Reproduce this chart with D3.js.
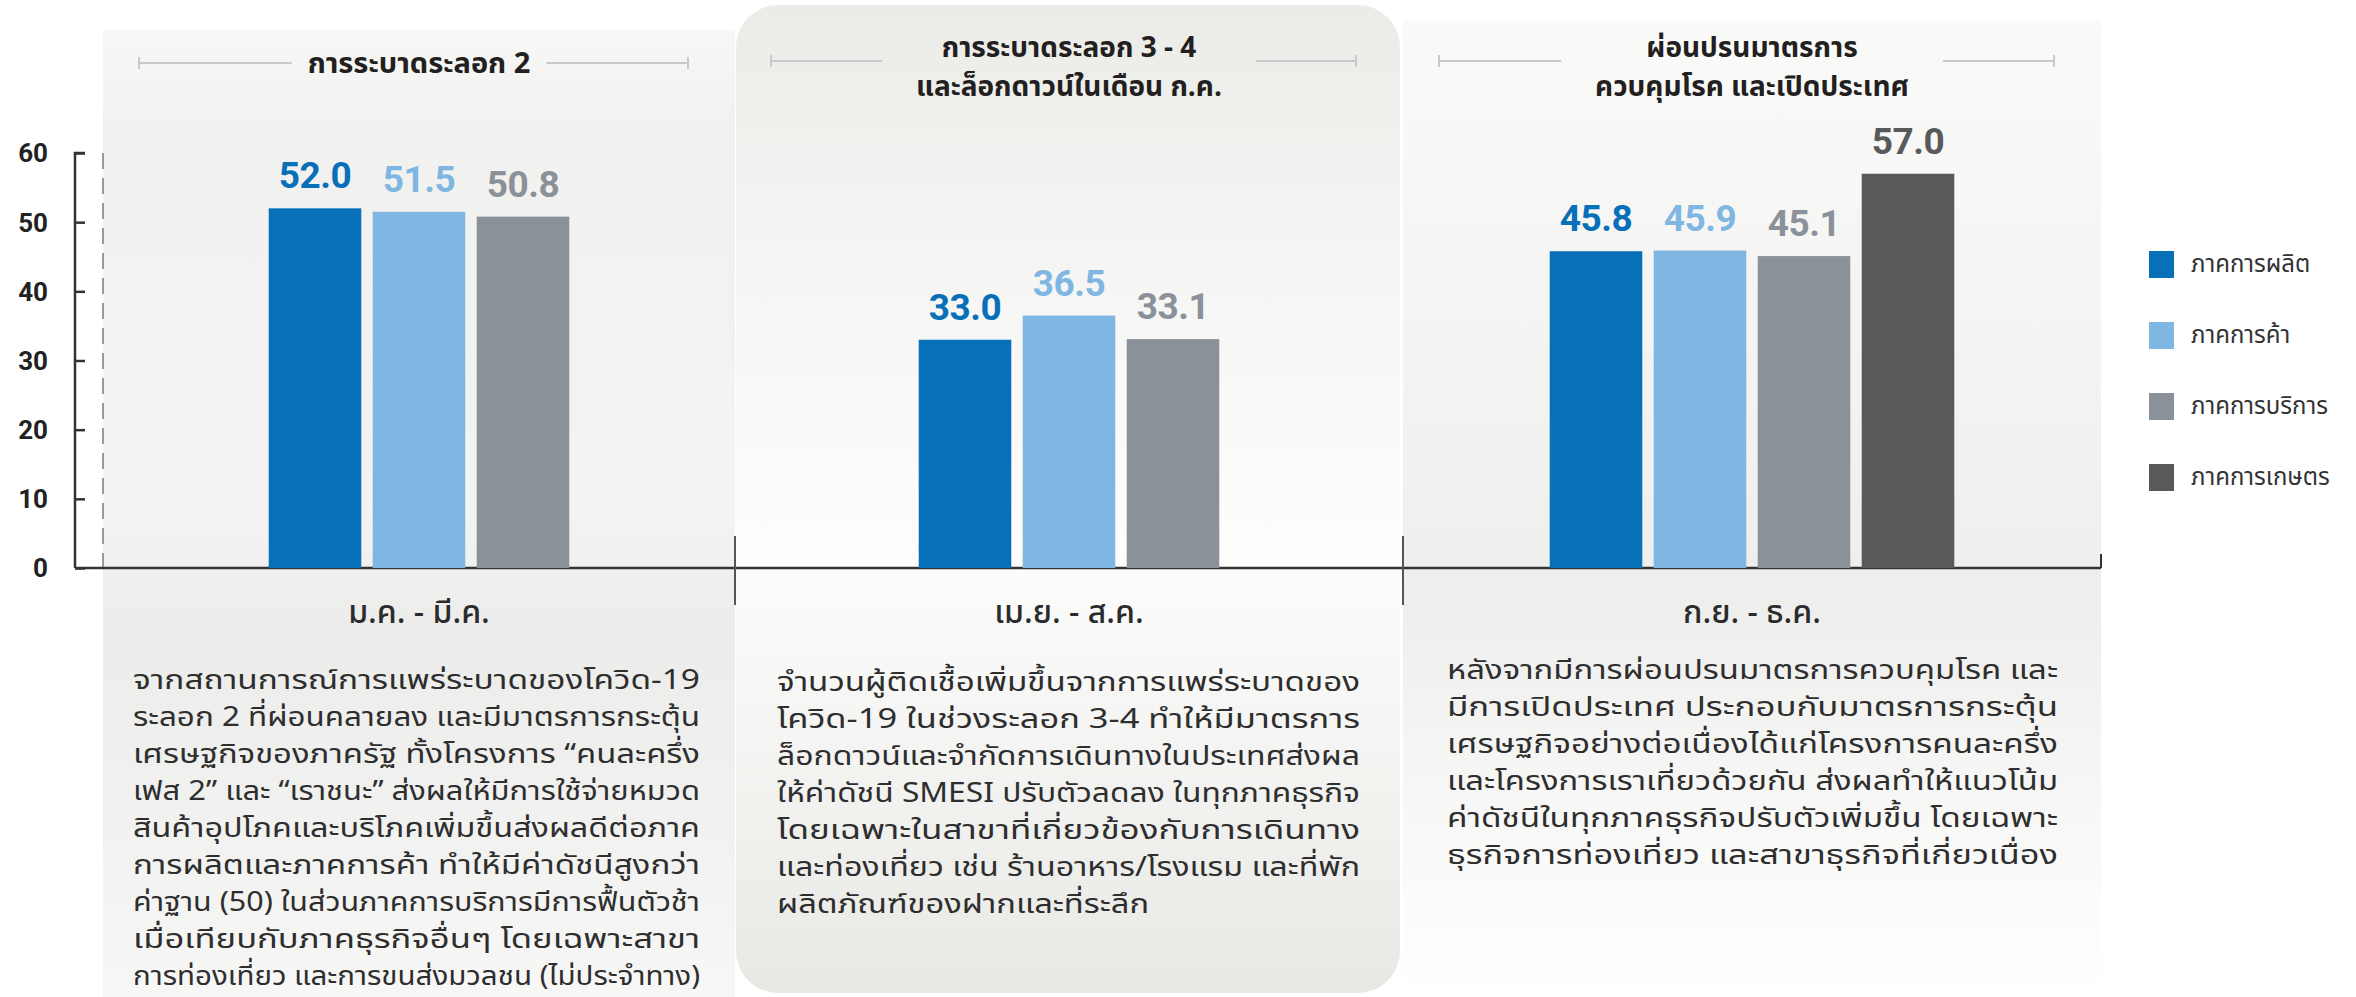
<!DOCTYPE html>
<html>
<head>
<meta charset="utf-8">
<script src="https://cdn.jsdelivr.net/npm/d3@7"></script>
<style>
  body { margin: 0; background: #fff; }
  svg { display: block; }
  .thai { font-family: "Noto Sans Thai", "Noto Sans Thai UI", "Noto Sans", sans-serif; }
  .num { font-family: Roboto, "Noto Sans", sans-serif; }
</style>
</head>
<body>
<div id="chart"></div>
<script>
// periods (x groups)
const periods = ["ม.ค. - มี.ค.", "เม.ย. - ส.ค.", "ก.ย. - ธ.ค."];
const titles = [
  ["การระบาดระลอก 2"],
  ["การระบาดระลอก 3 - 4", "และล็อกดาวน์ในเดือน ก.ค."],
  ["ผ่อนปรนมาตรการ", "ควบคุมโรค และเปิดประเทศ"]
];
const sectors = ["ภาคการผลิต", "ภาคการค้า", "ภาคการบริการ", "ภาคการเกษตร"];
// values per sector for each period (null = no bar)
const production = [52.0, 33.0, 45.8];
const trade = [51.5, 36.5, 45.9];
const services = [50.8, 33.1, 45.1];
const agriculture = [null, null, 57.0];
const yTicks = [0, 10, 20, 30, 40, 50, 60];

const notes = [
  ["จากสถานการณ์การแพร่ระบาดของโควิด-19",
   "ระลอก 2 ที่ผ่อนคลายลง และมีมาตรการกระตุ้น",
   "เศรษฐกิจของภาครัฐ ทั้งโครงการ “คนละครึ่ง",
   "เฟส 2” และ “เราชนะ” ส่งผลให้มีการใช้จ่ายหมวด",
   "สินค้าอุปโภคและบริโภคเพิ่มขึ้นส่งผลดีต่อภาค",
   "การผลิตและภาคการค้า ทำให้มีค่าดัชนีสูงกว่า",
   "ค่าฐาน (50) ในส่วนภาคการบริการมีการฟื้นตัวช้า",
   "เมื่อเทียบกับภาคธุรกิจอื่นๆ โดยเฉพาะสาขา",
   "การท่องเที่ยว และการขนส่งมวลชน (ไม่ประจำทาง)"],
  ["จำนวนผู้ติดเชื้อเพิ่มขึ้นจากการแพร่ระบาดของ",
   "โควิด-19 ในช่วงระลอก 3-4 ทำให้มีมาตรการ",
   "ล็อกดาวน์และจำกัดการเดินทางในประเทศส่งผล",
   "ให้ค่าดัชนี SMESI ปรับตัวลดลง ในทุกภาคธุรกิจ",
   "โดยเฉพาะในสาขาที่เกี่ยวข้องกับการเดินทาง",
   "และท่องเที่ยว เช่น ร้านอาหาร/โรงแรม และที่พัก",
   "ผลิตภัณฑ์ของฝากและที่ระลึก"],
  ["หลังจากมีการผ่อนปรนมาตรการควบคุมโรค และ",
   "มีการเปิดประเทศ ประกอบกับมาตรการกระตุ้น",
   "เศรษฐกิจอย่างต่อเนื่องได้แก่โครงการคนละครึ่ง",
   "และโครงการเราเที่ยวด้วยกัน ส่งผลทำให้แนวโน้ม",
   "ค่าดัชนีในทุกภาคธุรกิจปรับตัวเพิ่มขึ้น โดยเฉพาะ",
   "ธุรกิจการท่องเที่ยว และสาขาธุรกิจที่เกี่ยวเนื่อง"]
];

const colors = ["#0870b8", "#7fb6e2", "#8b9198", "#58595b"];
const seriesValues = [production, trade, services, agriculture];

const width = 2356, height = 997;
const axisX = 75, baseY = 568, topY = 153;
const panelEdges = [103, 735, 1403, 2101];
const step = 104;

const svg = d3.select("#chart").append("svg")
  .attr("width", width)
  .attr("height", height);

const defs = svg.append("defs");
function vgrad(id, stops) {
  let g = defs.append("linearGradient").attr("id", id)
    .attr("x1", 0).attr("y1", 0).attr("x2", 0).attr("y2", 1);
  stops.forEach(s => g.append("stop").attr("offset", s[0]).attr("stop-color", s[1]));
}
vgrad("gSide", [[0, "#f7f7f5"], [0.1, "#f1f1ef"], [0.5, "#f3f3f1"], [0.62, "#ececea"], [0.85, "#f2f2f0"], [1, "#f7f7f6"]]);
vgrad("gMid", [[0, "#ebebe8"], [0.3, "#f6f6f5"], [0.55, "#fdfdfd"], [0.75, "#f4f4f2"], [1, "#e8e8e5"]]);
vgrad("gRight", [[0, "#fafaf9"], [0.35, "#f3f3f1"], [0.6, "#eeeeec"], [0.8, "#f7f7f6"], [1, "#ffffff"]]);

// panel backgrounds
svg.append("rect").attr("x", panelEdges[0]).attr("y", 30)
  .attr("width", panelEdges[1] - panelEdges[0]).attr("height", height - 30)
  .attr("fill", "url(#gSide)");
svg.append("rect").attr("x", panelEdges[2]).attr("y", 20)
  .attr("width", panelEdges[3] - panelEdges[2]).attr("height", height - 20)
  .attr("fill", "url(#gRight)");
svg.append("rect").attr("x", panelEdges[1] + 1).attr("y", 5)
  .attr("width", panelEdges[2] - panelEdges[1] - 4).attr("height", 988)
  .attr("rx", 42)
  .attr("fill", "url(#gMid)");

const y = d3.scaleLinear().domain([0, 60]).range([baseY, topY]);

// dashed guide
svg.append("line")
  .attr("x1", panelEdges[0]).attr("x2", panelEdges[0])
  .attr("y1", y(60)).attr("y2", baseY)
  .attr("stroke", "#9a9a9a").attr("stroke-width", 2)
  .attr("stroke-dasharray", "16,9");

// y axis
const yAxis = svg.append("g")
  .attr("transform", "translate(" + axisX + ",0)")
  .call(d3.axisRight(y).tickValues(yTicks).tickSize(10).tickFormat(""));
yAxis.select(".domain").attr("stroke", "#333").attr("stroke-width", 2.5).attr("d", "M10," + y(60) + "H0V" + baseY);
yAxis.selectAll(".tick line").attr("stroke", "#333").attr("stroke-width", 2.5);
yAxis.selectAll(".tick text").remove();

svg.append("g").selectAll("text")
  .data(yTicks)
  .enter().append("text")
  .attr("class", "num")
  .attr("x", 48)
  .attr("y", d => y(d))
  .attr("dy", "0.36em")
  .attr("text-anchor", "end")
  .attr("font-size", 26)
  .attr("font-weight", 700)
  .attr("fill", "#222")
  .text(d => d);

// baseline and separators
svg.append("line").attr("x1", axisX).attr("x2", panelEdges[3])
  .attr("y1", baseY).attr("y2", baseY)
  .attr("stroke", "#333").attr("stroke-width", 2.5);
[panelEdges[1], panelEdges[2]].forEach(px => {
  svg.append("line").attr("x1", px).attr("x2", px)
    .attr("y1", 536).attr("y2", 605)
    .attr("stroke", "#555").attr("stroke-width", 2);
});
svg.append("line").attr("x1", panelEdges[3]).attr("x2", panelEdges[3])
  .attr("y1", 554).attr("y2", baseY)
  .attr("stroke", "#333").attr("stroke-width", 2);

// bars
periods.forEach((p, i) => {
  let cx = (panelEdges[i] + panelEdges[i + 1]) / 2;
  let items = sectors.map((s, k) => ({ sector: s, k: k, value: seriesValues[k][i] }))
    .filter(d => d.value !== null);
  let x = d3.scaleBand()
    .domain(items.map(d => d.sector))
    .range([cx - items.length * step / 2, cx + items.length * step / 2])
    .paddingInner(0.11).paddingOuter(0.055);

  let g = svg.append("g").attr("class", "period");
  g.selectAll("rect").data(items).enter().append("rect")
    .attr("x", d => x(d.sector))
    .attr("y", d => y(d.value))
    .attr("width", x.bandwidth())
    .attr("height", d => baseY - y(d.value))
    .attr("fill", d => colors[d.k]);
  g.selectAll("text.val").data(items).enter().append("text")
    .attr("class", "val num")
    .attr("x", d => x(d.sector) + x.bandwidth() / 2)
    .attr("y", d => y(d.value) - 20)
    .attr("text-anchor", "middle")
    .attr("font-size", 37)
    .attr("font-weight", 700)
    .attr("letter-spacing", -0.5)
    .attr("fill", d => colors[d.k])
    .text(d => d3.format(".1f")(d.value));

  // period label
  svg.append("text").attr("class", "thai")
    .attr("x", cx).attr("y", 612).attr("dy", "0.35em")
    .attr("text-anchor", "middle")
    .attr("font-size", 32).attr("font-weight", 500)
    .attr("fill", "#2b2b2b")
    .text(p);

  // title with bracket lines
  let t = titles[i];
  let lineY = t.length === 1 ? 63 : 61;
  let titleY = t.length === 1 ? [63] : [47, 86];
  let tg = svg.append("g");
  let tt = tg.selectAll("text").data(t).enter().append("text")
    .attr("class", "thai")
    .attr("x", cx).attr("y", (d, j) => titleY[j]).attr("dy", "0.35em")
    .attr("text-anchor", "middle")
    .attr("font-size", (d) => t.length === 1 ? 29 : 28).attr("font-weight", 700)
    .attr("fill", "#231f20")
    .text(d => d);
  let tw = d3.max(tt.nodes(), n => n.getComputedTextLength());
  let gap = t.length === 1 ? 16 : 34;
  let left = panelEdges[i] + 36, right = panelEdges[i + 1] - 47;
  [[left, cx - tw / 2 - gap], [cx + tw / 2 + gap, right]].forEach(seg => {
    tg.append("line").attr("x1", seg[0]).attr("x2", seg[1])
      .attr("y1", lineY).attr("y2", lineY)
      .attr("stroke", "#c8c9cb").attr("stroke-width", 2);
  });
  [left, right].forEach(ex => {
    tg.append("line").attr("x1", ex).attr("x2", ex)
      .attr("y1", lineY - 6).attr("y2", lineY + 6)
      .attr("stroke", "#c8c9cb").attr("stroke-width", 2);
  });

  // note paragraph, justified to the column
  let colLeft = [133, 777, 1447][i], colRight = [700, 1360, 2058][i];
  let colW = colRight - colLeft;
  let firstY = [680, 682, 670][i];
  let ng = svg.append("g");
  let lines = ng.selectAll("text").data(notes[i]).enter().append("text")
    .attr("class", "thai")
    .attr("x", colLeft)
    .attr("y", (d, j) => firstY + j * 37)
    .attr("dy", "0.35em")
    .attr("font-size", 27)
    .attr("fill", "#2e2e2e")
    .text(d => d);
  let nat = lines.nodes().map(n => n.getComputedTextLength());
  let ratio = d3.median(nat.slice(0, -1), w => colW / w);
  lines.each(function(d, j) {
    let L = nat[j] * ratio;
    if (j < nat.length - 1 || L > colW * 0.9) L = colW;
    d3.select(this).attr("textLength", L).attr("lengthAdjust", "spacingAndGlyphs");
  });
});

// legend
const legend = svg.append("g").attr("transform", "translate(2149,264)");
const li = legend.selectAll("g").data(sectors).enter().append("g")
  .attr("transform", (d, k) => "translate(0," + k * 71 + ")");
li.append("rect").attr("x", 0).attr("y", -13).attr("width", 25).attr("height", 27)
  .attr("fill", (d, k) => colors[k]);
li.append("text").attr("class", "thai")
  .attr("x", 42).attr("y", 0).attr("dy", "0.35em")
  .attr("font-size", 24).attr("fill", "#333")
  .text(d => d);
</script>
</body>
</html>
